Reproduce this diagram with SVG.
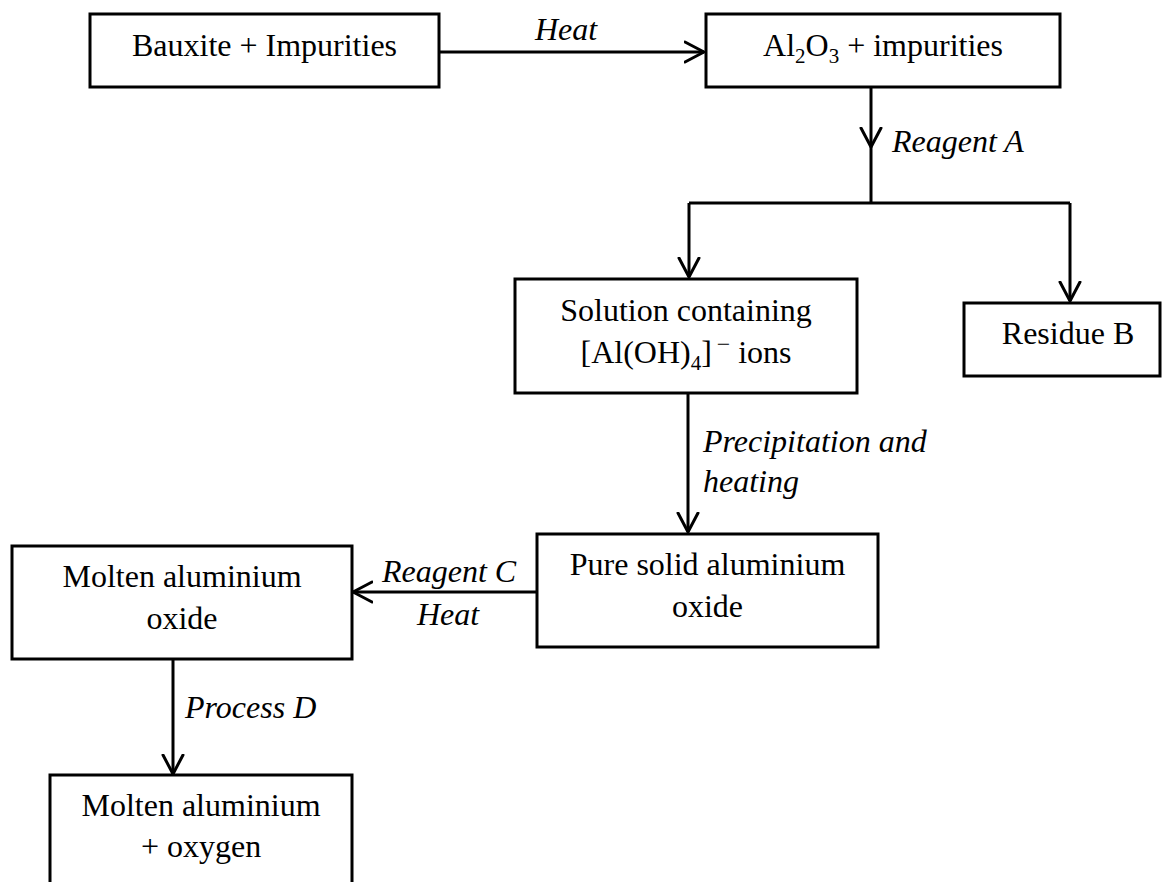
<svg xmlns="http://www.w3.org/2000/svg" width="1162" height="882" viewBox="0 0 1162 882">
<style>
.box{fill:#fff;stroke:#000;stroke-width:3}
.t{font-family:"Liberation Serif","Times New Roman",serif;font-size:32px;fill:#000}
.c{text-anchor:middle}
.i{font-style:italic}
.ln{fill:none;stroke:#000;stroke-width:3}
</style>
<defs>
<marker id="ah" markerUnits="userSpaceOnUse" viewBox="0 0 22 24" markerWidth="22" markerHeight="24" refX="20" refY="12" orient="auto">
<path d="M1,2 L20,12 L1,22" fill="none" stroke="#000" stroke-width="3" stroke-linecap="round" stroke-linejoin="round"/>
</marker>
</defs>
<rect width="1162" height="882" fill="#fff"/>
<g id="connectors">
<path class="ln" d="M439,52 H704" marker-end="url(#ah)"/>
<path class="ln" d="M871,87 V147 V203" marker-mid="url(#ah)"/>
<path class="ln" d="M689,203 H1070"/>
<path class="ln" d="M689,203 V277" marker-end="url(#ah)"/>
<path class="ln" d="M1070,203 V301" marker-end="url(#ah)"/>
<path class="ln" d="M688,393 V532" marker-end="url(#ah)"/>
<path class="ln" d="M537,592 H353" marker-end="url(#ah)"/>
<path class="ln" d="M173,659 V774" marker-end="url(#ah)"/>
<text class="t i c" x="566" y="40">Heat</text>
<text class="t i" x="892" y="152">Reagent A</text>
<text class="t i" x="703" y="452">Precipitation and</text>
<text class="t i" x="703" y="492">heating</text>
<text class="t i" x="382" y="582">Reagent C</text>
<text class="t i" x="417" y="625">Heat</text>
<text class="t i" x="185" y="718">Process D</text>
</g>
<g id="bauxite">
<rect class="box" x="90" y="14" width="349" height="73"/>
<text class="t c" x="264.5" y="56">Bauxite + Impurities</text>
</g>
<g id="al2o3">
<rect class="box" x="706" y="14" width="354" height="73"/>
<text class="t c" x="883" y="56">Al<tspan font-size="21" dy="7">2</tspan><tspan dy="-7">O</tspan><tspan font-size="21" dy="7">3</tspan><tspan dy="-7"> + impurities</tspan></text>
</g>
<g id="solution">
<rect class="box" x="515" y="279" width="342" height="114"/>
<text class="t c" x="686" y="321">Solution containing</text>
<text class="t c" x="686" y="363">[Al(OH)<tspan font-size="21" dy="7">4</tspan><tspan dy="-7">]</tspan><tspan font-size="24" dy="-11">&#8201;&#8722;</tspan><tspan dy="11"> ions</tspan></text>
</g>
<g id="residue">
<rect class="box" x="964" y="303" width="196" height="73"/>
<text class="t c" x="1068" y="344">Residue B</text>
</g>
<g id="pure">
<rect class="box" x="537" y="534" width="341" height="113"/>
<text class="t c" x="707.5" y="575">Pure solid aluminium</text>
<text class="t c" x="707.5" y="617">oxide</text>
</g>
<g id="molten-oxide">
<rect class="box" x="12" y="546" width="340" height="113"/>
<text class="t c" x="182" y="587">Molten aluminium</text>
<text class="t c" x="182" y="629">oxide</text>
</g>
<g id="molten-al">
<rect class="box" x="50" y="775" width="302" height="120"/>
<text class="t c" x="201" y="816">Molten aluminium</text>
<text class="t c" x="201" y="857">+ oxygen</text>
</g>
</svg>
